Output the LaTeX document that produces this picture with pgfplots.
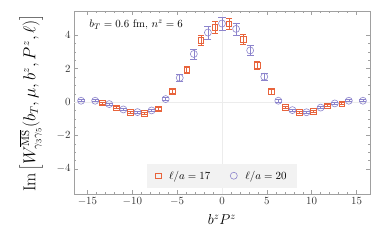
\documentclass[border=0pt]{standalone}
\usepackage{pgfplots}
\pgfplotsset{compat=1.18}
\usepackage{pgfplotstable}
\definecolor{cred}{HTML}{E8643C}
\definecolor{cblue}{HTML}{8C84CC}
\definecolor{framec}{HTML}{A0A0A0}
\pgfplotstableread{
x y e
-13.35 -0.06 0.06
-11.78 -0.34 0.06
-10.21 -0.60 0.06
-8.64 -0.66 0.06
-7.07 -0.40 0.07
-5.50 0.64 0.10
-3.93 1.93 0.23
-2.36 3.69 0.30
-0.79 4.46 0.35
0.79 4.68 0.32
2.36 3.76 0.30
3.93 2.21 0.23
5.50 0.64 0.15
7.07 -0.32 0.07
8.64 -0.60 0.06
10.21 -0.54 0.06
11.78 -0.22 0.06
13.35 -0.10 0.06
}\redtab
\pgfplotstableread{
x y e
-15.71 0.08 0.06
-14.14 0.08 0.06
-12.57 -0.12 0.06
-11.00 -0.44 0.06
-9.42 -0.60 0.06
-7.85 -0.50 0.07
-6.28 0.18 0.10
-4.71 1.45 0.22
-3.14 2.88 0.30
-1.57 4.16 0.38
0 4.70 0.40
1.57 4.38 0.36
3.14 3.09 0.28
4.71 1.52 0.22
6.28 0.08 0.10
7.85 -0.48 0.07
9.42 -0.61 0.06
11.00 -0.33 0.06
12.57 -0.08 0.06
14.14 0.08 0.06
15.71 0.08 0.06
}\bluetab
\begin{document}
\begin{tikzpicture}
\useasboundingbox (-74bp,-49bp) rectangle (308bp,194bp);
\begin{axis}[
  scale only axis,
  width=296bp, height=183bp,
  at={(0,0)}, anchor=south west,
  xmin=-16.5, xmax=16.5, ymin=-5.5, ymax=5.45,
  xtick={-15,-10,-5,0,5,10,15},
  ytick={-4,-2,0,2,4},
  minor x tick num=4,
  minor y tick num=3,
  tick align=inside,
  major tick length=4bp, minor tick length=2.5bp,
  axis line style={framec},
  every tick/.style={framec},
  tick label style={font=\fontsize{11}{13}\selectfont, text=black!80},
  extra x ticks={0}, extra y ticks={0},
  extra x tick labels={}, extra y tick labels={},
  extra tick style={grid=major, grid style={gray!15, line width=0.5pt}, major tick length=0pt},
  xlabel={$b^z P^z$},
  xlabel style={font=\fontsize{14}{16}\selectfont, yshift=-2bp},
  ylabel={$\mathrm{Im}\left[W^{\overline{\mathrm{MS}}}_{\gamma_3\gamma_5}(b_T,\mu,b^z,P^z,\ell)\right]$},
  ylabel style={font=\fontsize{16}{18}\selectfont, at={(axis description cs:-0.145,0.495)}, anchor=center},
  legend style={at={(0.5,0.034)}, anchor=south, fill=gray!10, draw=none,
    legend columns=2, font=\fontsize{10.5}{12}\selectfont,
    /tikz/every even column/.append style={column sep=18bp},
    /tikz/every odd column/.append style={column sep=6bp},
    inner xsep=8bp, inner ysep=5bp},
  legend cell align=left,
]
\addplot[only marks, mark=square, mark size=2.8bp, color=cred, line width=0.8pt,
  mark options={draw=cred, fill=none, solid},
  error bars/.cd, y dir=both, y explicit, error mark options={draw=cred, mark size=2.8bp, line width=0.6pt, rotate=90}, error bar style={draw=cred, line width=0.6pt}]
  table[x=x, y=y, y error=e] {\redtab};
\addlegendentry{$\ell/a=17$}
\addplot[only marks, mark=o, mark size=3.5bp, color=cblue, line width=0.6pt,
  mark options={draw=cblue, fill=none, solid},
  error bars/.cd, y dir=both, y explicit, error mark options={draw=cblue, mark size=3.5bp, line width=0.6pt, rotate=90}, error bar style={draw=cblue, line width=0.6pt}]
  table[x=x, y=y, y error=e] {\bluetab};
\addlegendentry{$\ell/a=20$}
\node[anchor=west, inner sep=0pt, font=\fontsize{11}{13}\selectfont] at (axis cs:-14.8,4.62) {$b_T=0.6$ fm, $n^z=6$};
\end{axis}
\end{tikzpicture}
\end{document}
